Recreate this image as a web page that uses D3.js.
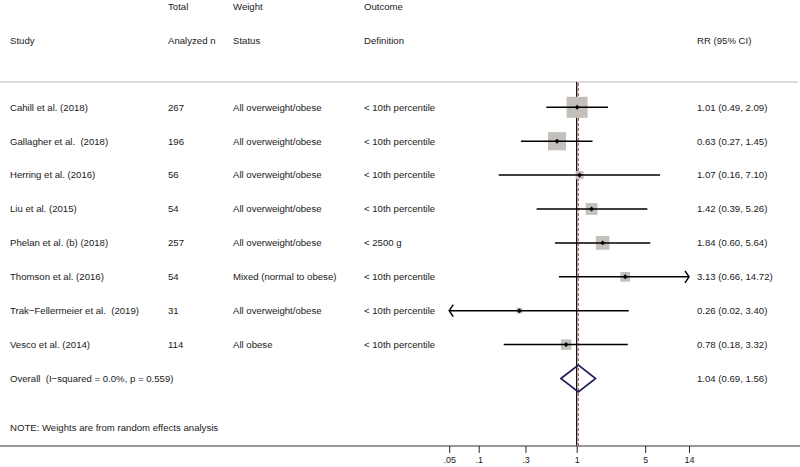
<!DOCTYPE html>
<html>
<head>
<meta charset="utf-8">
<script src="https://cdn.jsdelivr.net/npm/d3@7"></script>
<style>
  html, body { margin: 0; padding: 0; background: #fff; }
  #chart-forest { width: 800px; height: 467px; }
  text { font-family: "Liberation Sans", Arial, Helvetica, sans-serif; fill: #1a1a1a; white-space: pre; }
</style>
</head>
<body>
<div id="chart-forest"></div>
<script>
// data
const studies = [
  "Cahill et al. (2018)",
  "Gallagher et al.  (2018)",
  "Herring et al. (2016)",
  "Liu et al. (2015)",
  "Phelan et al. (b) (2018)",
  "Thomson et al. (2016)",
  "Trak\u2212Fellermeier et al.  (2019)",
  "Vesco et al. (2014)"
];
const totalN = [267, 196, 56, 54, 257, 54, 31, 114];
const weightStatus = [
  "All overweight/obese", "All overweight/obese", "All overweight/obese", "All overweight/obese",
  "All overweight/obese", "Mixed (normal to obese)", "All overweight/obese", "All obese"
];
const outcomeDef = [
  "< 10th percentile", "< 10th percentile", "< 10th percentile", "< 10th percentile",
  "< 2500 g", "< 10th percentile", "< 10th percentile", "< 10th percentile"
];
const rr = [1.01, 0.63, 1.07, 1.42, 1.84, 3.13, 0.26, 0.78];
const ciLow = [0.49, 0.27, 0.16, 0.39, 0.60, 0.66, 0.02, 0.18];
const ciHigh = [2.09, 1.45, 7.10, 5.26, 5.64, 14.72, 3.40, 3.32];
const weights = [31.7, 23.6, 4.7, 9.9, 13.3, 6.9, 2.5, 7.9]; // % weight, from box sizes

const overallLabel = "Overall  (I\u2212squared = 0.0%, p = 0.559)";
const overallRR = 1.04;
const overallLow = 0.69;
const overallHigh = 1.56;

const tickValues = [0.05, 0.1, 0.3, 1, 5, 14];
const tickLabels = [".05", ".1", ".3", "1", "5", "14"];

function renderForest(containerId) {
  const container = d3.select(`#${containerId}`);
  container.selectAll("*").remove();

  const width = 800;
  const height = 467;
  const fs = "9.6px";

  const svg = container.append("svg")
    .attr("width", width)
    .attr("height", height);

  const rows = studies.concat([overallLabel]);

  const x = d3.scaleLog()
    .domain([tickValues[0], tickValues[tickValues.length - 1]])
    .range([449.2, 689]);

  const y = d3.scalePoint()
    .domain(rows)
    .range([107.3, 378.5]);

  const boxSize = d3.scaleSqrt()
    .domain([0, d3.max(weights)])
    .range([0, 21]);

  const col = { study: 10, n: 168, status: 233, outcome: 364, rr: 697 };
  const topY = 82;
  const axisY = 446;

  // headers
  const header = [
    { t: "Total", x: col.n, y: 7 },
    { t: "Weight", x: col.status, y: 7 },
    { t: "Outcome", x: col.outcome, y: 7 },
    { t: "Study", x: col.study, y: 41 },
    { t: "Analyzed n", x: col.n, y: 41 },
    { t: "Status", x: col.status, y: 41 },
    { t: "Definition", x: col.outcome, y: 41 },
    { t: "RR (95% CI)", x: col.rr, y: 41 }
  ];
  svg.append("g").selectAll("text")
    .data(header)
    .join("text")
    .attr("x", d => d.x)
    .attr("y", d => d.y)
    .attr("dy", "0.35em")
    .style("font-size", fs)
    .text(d => d.t);

  // top rule
  svg.append("line")
    .attr("x1", 0).attr("x2", 798)
    .attr("y1", topY).attr("y2", topY)
    .attr("stroke", "#cfcfcf")
    .attr("stroke-width", 1.5);

  // table text per study
  const table = svg.append("g");
  const cols = [
    { x: col.study, f: i => studies[i] },
    { x: col.n, f: i => String(totalN[i]) },
    { x: col.status, f: i => weightStatus[i] },
    { x: col.outcome, f: i => outcomeDef[i] },
    { x: col.rr, f: i => `${rr[i].toFixed(2)} (${ciLow[i].toFixed(2)}, ${ciHigh[i].toFixed(2)})` }
  ];
  cols.forEach(c => {
    table.append("g").selectAll("text")
      .data(studies)
      .join("text")
      .attr("x", c.x)
      .attr("y", d => y(d))
      .attr("dy", "0.35em")
      .style("font-size", fs)
      .text((d, i) => c.f(i));
  });

  table.append("text")
    .attr("x", col.study)
    .attr("y", y(overallLabel))
    .attr("dy", "0.35em")
    .style("font-size", fs)
    .text(overallLabel);

  table.append("text")
    .attr("x", col.rr)
    .attr("y", y(overallLabel))
    .attr("dy", "0.35em")
    .style("font-size", fs)
    .text(`${overallRR.toFixed(2)} (${overallLow.toFixed(2)}, ${overallHigh.toFixed(2)})`);

  svg.append("text")
    .attr("x", col.study)
    .attr("y", 428)
    .attr("dy", "0.35em")
    .style("font-size", fs)
    .text("NOTE: Weights are from random effects analysis");

  // null line
  svg.append("line")
    .attr("x1", x(1)).attr("x2", x(1))
    .attr("y1", topY).attr("y2", axisY)
    .attr("stroke", "#000")
    .attr("stroke-width", 1.2);

  // overall estimate line
  svg.append("line")
    .attr("x1", x(overallRR)).attr("x2", x(overallRR))
    .attr("y1", topY + 1).attr("y2", axisY)
    .attr("stroke", "#b26a62")
    .attr("stroke-width", 1.3)
    .attr("stroke-dasharray", "3,2");

  const dMin = x.domain()[0], dMax = x.domain()[1];
  const idx = d3.range(studies.length);

  const marks = svg.append("g");

  // weight boxes
  marks.selectAll("rect.box")
    .data(idx)
    .join("rect")
    .attr("class", "box")
    .attr("x", i => x(rr[i]) - boxSize(weights[i]) / 2)
    .attr("y", i => y(studies[i]) - boxSize(weights[i]) / 2)
    .attr("width", i => boxSize(weights[i]))
    .attr("height", i => boxSize(weights[i]))
    .attr("fill", "#c3bfba");

  // confidence intervals (clipped to axis range)
  marks.selectAll("line.ci")
    .data(idx)
    .join("line")
    .attr("class", "ci")
    .attr("x1", i => x(Math.max(ciLow[i], dMin)))
    .attr("x2", i => x(Math.min(ciHigh[i], dMax)))
    .attr("y1", i => y(studies[i]))
    .attr("y2", i => y(studies[i]))
    .attr("stroke", "#000")
    .attr("stroke-width", 1.5);

  // arrows where the CI runs off the scale
  const arrows = [];
  idx.forEach(i => {
    if (ciHigh[i] > dMax) arrows.push({ i, v: dMax, dir: 1 });
    if (ciLow[i] < dMin) arrows.push({ i, v: dMin, dir: -1 });
  });
  marks.selectAll("path.arrow")
    .data(arrows)
    .join("path")
    .attr("class", "arrow")
    .attr("d", a => {
      const tx = x(a.v), ty = y(studies[a.i]);
      return `M${tx - a.dir * 4},${ty - 6}L${tx},${ty}L${tx - a.dir * 4},${ty + 6}`;
    })
    .attr("fill", "none")
    .attr("stroke", "#000")
    .attr("stroke-width", 1.5);

  // point estimates (small diamonds)
  marks.selectAll("path.pt")
    .data(idx)
    .join("path")
    .attr("class", "pt")
    .attr("transform", i => `translate(${x(rr[i])},${y(studies[i])}) rotate(45)`)
    .attr("d", d3.symbol().type(d3.symbolSquare).size(12))
    .attr("fill", "#000");

  // overall diamond
  const oy = y(overallLabel);
  const hh = 13.5;
  marks.append("path")
    .attr("d", `M${x(overallLow)},${oy}L${x(overallRR)},${oy - hh}L${x(overallHigh)},${oy}L${x(overallRR)},${oy + hh}Z`)
    .attr("fill", "none")
    .attr("stroke", "#1c1c5c")
    .attr("stroke-width", 1.6);

  // axis
  svg.append("line")
    .attr("x1", 0).attr("x2", 800)
    .attr("y1", axisY).attr("y2", axisY)
    .attr("stroke", "#767676")
    .attr("stroke-width", 1.6);

  const axis = svg.append("g")
    .attr("transform", `translate(0,${axisY})`)
    .call(
      d3.axisBottom(x)
        .tickValues(tickValues)
        .tickFormat((d, i) => tickLabels[i])
        .tickSize(7)
        .tickPadding(4)
    );
  axis.select(".domain").remove();
  axis.selectAll(".tick line").attr("stroke", "#222").attr("stroke-width", 1);
  axis.selectAll("text")
    .style("font-size", "9px")
    .style("font-family", "'Liberation Sans', Arial, sans-serif")
    .attr("fill", "#1a1a1a");
}

document.addEventListener("DOMContentLoaded", () => {
  renderForest("chart-forest");
});
</script>
</body>
</html>
